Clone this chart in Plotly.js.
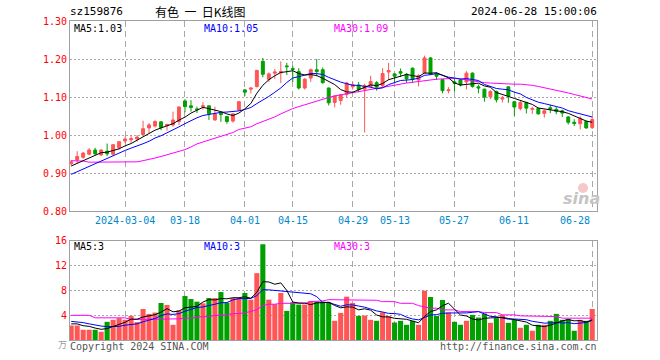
<!DOCTYPE html>
<html><head><meta charset="utf-8">
<script src="https://cdn.plot.ly/plotly-3.0.1.min.js"></script>
<style>html,body{margin:0;padding:0;background:#fff}#chart{width:660px;height:360px}</style>
</head><body><div id="chart"></div>
<script>
// ---- data ----
const tickIdx  = [9, 19, 29, 37, 47, 54, 64, 74, 87];
const tickText = ["2024-03-04","03-18","04-01","04-15","04-29","05-13","05-27","06-11","06-28"];

const openP = [0.925,0.935,0.942,0.950,0.961,0.948,0.958,0.950,0.967,0.985,
0.988,0.990,1.002,1.019,1.024,1.035,1.025,1.027,1.036,1.090,
1.077,1.069,1.075,1.077,1.040,1.058,1.049,1.037,1.066,1.119,
1.121,1.128,1.194,1.147,1.163,1.164,1.182,1.175,1.167,1.124,
1.150,1.172,1.172,1.124,1.086,1.091,1.107,1.127,1.132,1.121,
1.128,1.138,1.130,1.166,1.161,1.167,1.160,1.176,1.145,1.163,
1.203,1.160,1.146,1.117,1.140,1.145,1.140,1.163,1.127,1.121,
1.101,1.115,1.095,1.127,1.088,1.070,1.086,1.068,1.070,1.057,
1.072,1.068,1.064,1.048,1.034,1.030,1.036,1.020];
const highP = [0.935,0.958,0.956,0.966,0.967,0.963,0.978,0.977,0.984,0.996,
1.000,1.000,1.038,1.032,1.039,1.037,1.030,1.062,1.076,1.095,
1.092,1.075,1.087,1.078,1.075,1.060,1.050,1.058,1.090,1.121,
1.125,1.172,1.203,1.165,1.174,1.194,1.190,1.182,1.176,1.150,
1.175,1.200,1.178,1.125,1.105,1.108,1.140,1.140,1.140,1.135,
1.156,1.142,1.176,1.190,1.163,1.175,1.163,1.178,1.160,1.209,
1.205,1.165,1.147,1.126,1.150,1.148,1.168,1.165,1.133,1.122,
1.118,1.117,1.103,1.128,1.090,1.090,1.088,1.075,1.072,1.067,
1.080,1.075,1.067,1.050,1.042,1.050,1.038,1.048];
const lowP = [0.920,0.927,0.938,0.947,0.948,0.945,0.945,0.945,0.962,0.979,
0.980,0.983,1.000,1.005,1.020,1.013,1.012,1.022,1.027,1.060,
1.062,1.058,1.067,1.040,1.038,1.035,1.030,1.033,1.064,1.103,
1.110,1.125,1.152,1.140,1.148,1.137,1.158,1.140,1.120,1.120,
1.140,1.155,1.135,1.078,1.073,1.080,1.100,1.120,1.113,1.007,
1.125,1.117,1.127,1.145,1.138,1.153,1.137,1.138,1.128,1.160,
1.158,1.145,1.110,1.110,1.115,1.128,1.120,1.125,1.110,1.088,
1.095,1.086,1.086,1.085,1.051,1.065,1.057,1.056,1.054,1.046,
1.058,1.055,1.048,1.028,1.024,1.015,1.017,1.016];
const closeP = [0.930,0.944,0.953,0.961,0.951,0.961,0.951,0.975,0.983,0.990,
0.991,0.995,1.017,1.027,1.036,1.020,1.028,1.040,1.074,1.075,
1.073,1.067,1.077,1.056,1.056,1.054,1.036,1.056,1.088,1.113,
1.124,1.170,1.160,1.161,1.166,1.167,1.180,1.173,1.124,1.147,
1.172,1.167,1.138,1.085,1.103,1.106,1.137,1.133,1.120,1.130,
1.141,1.126,1.162,1.170,1.155,1.163,1.148,1.147,1.156,1.203,
1.160,1.155,1.117,1.119,1.136,1.132,1.163,1.128,1.124,1.100,
1.115,1.093,1.098,1.103,1.074,1.086,1.071,1.070,1.056,1.064,
1.069,1.062,1.058,1.034,1.031,1.044,1.019,1.041];

const volume = [2.34,2.34,1.65,1.65,1.65,1.33,2.93,3.25,3.52,3.25,
3.89,2.88,5.00,4.20,4.42,5.97,5.65,2.45,4.79,7.09,
6.61,6.18,5.91,6.77,6.77,7.73,6.02,6.77,6.77,7.57,
6.50,10.77,15.41,6.50,5.76,7.57,4.69,6.08,5.70,5.70,
6.29,6.18,6.18,6.08,3.09,4.37,6.98,5.97,3.89,3.94,
3.25,3.09,4.47,3.84,2.82,3.09,2.45,3.09,2.45,7.94,
6.93,3.89,6.45,4.42,2.93,2.45,3.09,4.05,3.62,4.26,
2.77,3.52,4.05,2.77,3.25,1.97,2.45,1.49,2.45,2.45,
3.09,4.21,3.25,3.41,1.49,3.25,3.09,5.00];

// moving-average values at the left edge (history before the window)
const priceMa5Head  = [0.919,0.926,0.933,0.939];
const priceMa10Head = [0.897,0.904,0.912,0.919,0.927,0.934,0.941,0.948,0.954];
const priceMa30 = [0.933,0.933,0.932,0.929,0.929,0.929,0.929,0.929,0.929,0.929,
0.929,0.930,0.933,0.936,0.940,0.944,0.948,0.952,0.956,0.962,
0.969,0.977,0.982,0.987,0.992,0.996,1.001,1.007,1.015,1.019,
1.022,1.030,1.036,1.040,1.048,1.056,1.064,1.070,1.075,1.080,
1.084,1.089,1.094,1.099,1.103,1.106,1.109,1.112,1.115,1.118,
1.121,1.124,1.127,1.129,1.131,1.134,1.137,1.139,1.141,1.144,
1.146,1.147,1.148,1.149,1.149,1.148,1.145,1.142,1.140,1.138,
1.137,1.136,1.135,1.134,1.134,1.134,1.133,1.131,1.128,1.125,
1.122,1.119,1.115,1.111,1.107,1.103,1.099,1.095];
const volMa5Head  = [2.6,2.6,2.3,2.2];
const volMa10Head = [3.0,2.95,2.8,2.6,2.4,2.25,2.15,2.15,2.2];
const volMa30 = [3.98,3.98,3.98,3.98,3.57,3.57,3.57,3.57,3.57,3.57,
3.30,3.30,3.30,3.41,3.41,3.41,3.41,3.41,3.41,3.52,
3.52,3.68,3.68,3.80,3.94,3.94,4.05,4.26,4.26,4.40,
4.58,4.90,5.54,5.76,5.76,5.91,5.91,5.91,5.91,5.91,
6.18,6.18,6.30,6.50,6.50,6.50,6.50,6.50,6.50,6.40,
6.40,6.40,6.18,6.18,6.18,5.91,5.91,5.91,5.54,5.30,
5.12,5.12,4.85,4.85,4.85,4.58,4.58,4.58,4.58,4.42,
4.42,4.42,4.05,4.05,4.05,3.89,3.89,3.89,3.89,3.78,
3.78,3.78,3.52,3.52,3.52,3.52,3.52,3.52];

const priceTicks = [0.80,0.90,1.00,1.10,1.20,1.30];
const volTicks = [4,8,12,16];

// ---- derived ----
function movingAvg(vals, n, head) {
  return vals.map((v, i) => {
    if (i < n - 1) return head[i];
    let s = 0; for (let k = i - n + 1; k <= i; k++) s += vals[k];
    return s / n;
  });
}
const idx = closeP.map((_, i) => i);
const RED = '#ff5555', GREEN = '#00a000';
const volColors = closeP.map((c, i) => c >= openP[i] ? RED : GREEN);
const pMa5 = movingAvg(closeP, 5, priceMa5Head);
const pMa10 = movingAvg(closeP, 10, priceMa10Head);
const vMa5 = movingAvg(volume, 5, volMa5Head);
const vMa10 = movingAvg(volume, 10, volMa10Head);

// ---- layout helpers (pixel -> paper) ----
const L = 70, R = 597, T = 21, B = 340;
const px = x => (x - L) / (R - L);
const py = y => (B - y) / (B - T);
const MONO = 'DejaVu Sans Mono, monospace';

const traces = [
  {type:'candlestick', x: idx, open: openP, high: highP, low: lowP, close: closeP,
   xaxis:'x', yaxis:'y', whiskerwidth: 0, hoverinfo:'skip',
   increasing:{line:{color:RED, width:1}, fillcolor:RED},
   decreasing:{line:{color:GREEN, width:1}, fillcolor:GREEN}},
  {type:'scatter', mode:'lines', x: idx, y: priceMa30, xaxis:'x', yaxis:'y', line:{color:'#ff00ff', width:1}, hoverinfo:'skip'},
  {type:'scatter', mode:'lines', x: idx, y: pMa10, xaxis:'x', yaxis:'y', line:{color:'#0000ff', width:1}, hoverinfo:'skip'},
  {type:'scatter', mode:'lines', x: idx, y: pMa5, xaxis:'x', yaxis:'y', line:{color:'#000000', width:1}, hoverinfo:'skip'},
  {type:'bar', x: idx, y: volume, xaxis:'x2', yaxis:'y2', marker:{color: volColors, line:{width:0}}, hoverinfo:'skip'},
  {type:'scatter', mode:'lines', x: idx, y: volMa30, xaxis:'x2', yaxis:'y2', line:{color:'#ff00ff', width:1}, hoverinfo:'skip'},
  {type:'scatter', mode:'lines', x: idx, y: vMa10, xaxis:'x2', yaxis:'y2', line:{color:'#0000ff', width:1}, hoverinfo:'skip'},
  {type:'scatter', mode:'lines', x: idx, y: vMa5, xaxis:'x2', yaxis:'y2', line:{color:'#000000', width:1}, hoverinfo:'skip'}
];

const xBase = {range:[-0.2, 87.8], tickvals: tickIdx, showticklabels:false, ticks:'',
  showgrid:true, gridcolor:'#a8a8a8', griddash:'6px,4px', gridwidth:1,
  showline:true, linecolor:'#a0a0a0', linewidth:1, mirror:true, zeroline:false, fixedrange:true};

const ann = [];
function txt(text, x, y, xanchor, color, size, family, extra) {
  ann.push(Object.assign({text, x: px(x), y: py(y), xref:'paper', yref:'paper',
    xanchor, yanchor:'middle', showarrow:false, borderpad:0,
    font:{family: family || MONO, size: size || 10, color}}, extra || {}));
}
txt('sz159876', 69, 12, 'left', '#000', 11);
txt('有色&nbsp;&nbsp;一&nbsp;&nbsp;日K线图', 200, 12, 'center', '#000', 12, 'Noto Sans CJK SC');
txt('2024-06-28 15:00:06', 598, 12, 'right', '#000', 11);
txt('MA5:1.03', 73, 28, 'left', '#000', 10);
txt('MA10:1.05', 203, 28, 'left', '#0000ff', 10);
txt('MA30:1.09', 333, 28, 'left', '#ff00ff', 10);
txt('MA5:3', 73, 247, 'left', '#000', 10);
txt('MA10:3', 203, 247, 'left', '#0000ff', 10);
txt('MA30:3', 333, 247, 'left', '#ff00ff', 10);
txt('Copyright 2024 SINA.COM', 69, 346, 'left', '#555', 10);
txt('http://finance.sina.com.cn', 598, 346, 'right', '#555', 10);
txt('万', 62, 344, 'center', '#999', 9, 'Noto Sans CJK SC');
txt('<i><b>sina</b></i>', 581, 198, 'center', '#c4c4c4', 16, 'DejaVu Sans');
tickIdx.forEach((t, k) => {
  ann.push({text: tickText[k], x: t, y: py(221), xref:'x', yref:'paper',
    xanchor: k === tickIdx.length - 1 ? 'right' : 'center', yanchor:'middle', showarrow:false,
    font:{family: MONO, size: 10, color:'#0088cc'}});
});

const layout = {
  width:660, height:360, margin:{l:L, r:660-R, t:T, b:360-B},
  paper_bgcolor:'#fff', plot_bgcolor:'#fff', showlegend:false, bargap:0.15,
  xaxis: Object.assign({}, xBase, {anchor:'y', rangeslider:{visible:false}}),
  xaxis2: Object.assign({}, xBase, {anchor:'y2'}),
  yaxis: {domain:[py(211.3), 1], range:[0.8, 1.3], tickvals: priceTicks,
    ticktext: priceTicks.map(v => v.toFixed(2)), tickfont:{family: MONO, size: 10, color:'#ff0000'},
    ticks:'', showgrid:true, gridcolor:'#a8a8a8', griddash:'2px,2px', gridwidth:1,
    showline:true, linecolor:'#a0a0a0', linewidth:1, mirror:true, zeroline:false, fixedrange:true},
  yaxis2: {domain:[0, py(240.7)], range:[0, 16], tickvals: volTicks,
    ticktext: volTicks.map(String), tickfont:{family: MONO, size: 10, color:'#ff0000'},
    ticks:'', showgrid:true, gridcolor:'#a8a8a8', griddash:'2px,2px', gridwidth:1,
    showline:true, linecolor:'#a0a0a0', linewidth:1, mirror:true, zeroline:false, fixedrange:true},
  annotations: ann,
  shapes: [{type:'circle', xref:'paper', yref:'paper', x0: px(578), x1: px(588), y0: py(193), y1: py(183),
    fillcolor:'#f6c8c8', line:{width:0}, layer:'below'}]
};

Plotly.newPlot('chart', traces, layout, {displayModeBar:false, staticPlot:true});
</script>
</body></html>
